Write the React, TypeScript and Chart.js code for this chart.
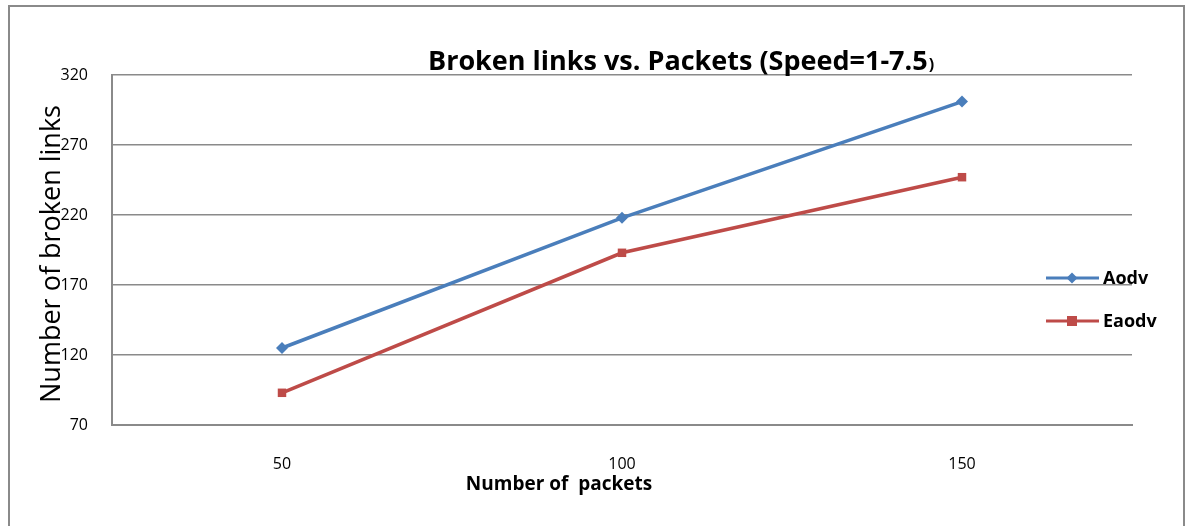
import { useEffect, useRef } from 'react';
import { Chart, registerables } from 'chart.js';
Chart.register(...registerables);

const categories = ['50', '100', '150'];
const aodvValues = [125, 218, 301];
const eaodvValues = [93, 193, 247];
const seriesNames = ['Aodv', 'Eaodv'];
const seriesColors = ['#4a7ebb', '#be4b48'];
const yMin = 70;
const yMax = 320;
const yStep = 50;
const titleText = 'Broken links vs. Packets (Speed=1-7.5';
const titleTail = ')';
const xTitle = 'Number of  packets';
const yTitle = 'Number of broken links';

const FONT = '"Open Sans", "DejaVu Sans", sans-serif';

const decorations = {
  id: 'decorations',
  afterDraw(chart: any) {
    const ctx = chart.ctx as CanvasRenderingContext2D;
    ctx.save();
    // outer frame
    ctx.strokeStyle = '#8a8a8a';
    ctx.lineWidth = 2;
    ctx.strokeRect(9, 6, 1175, 530);

    // title
    ctx.fillStyle = '#000';
    ctx.textBaseline = 'alphabetic';
    ctx.textAlign = 'left';
    ctx.font = `bold 27px ${FONT}`;
    const tw = ctx.measureText(titleText).width;
    const tx = 428;
    ctx.fillText(titleText, tx, 70);
    ctx.font = `bold 16px ${FONT}`;
    ctx.fillText(titleTail, tx + tw + 1, 70);

    // x title
    ctx.font = `bold 19px ${FONT}`;
    ctx.textAlign = 'center';
    ctx.textBaseline = 'middle';
    ctx.fillText(xTitle, 559, 485);

    // y title
    ctx.save();
    ctx.translate(52, 254);
    ctx.rotate(-Math.PI / 2);
    ctx.font = `27px ${FONT}`;
    ctx.textAlign = 'center';
    ctx.textBaseline = 'middle';
    ctx.fillText(yTitle, 0, 0);
    ctx.restore();

    // legend
    const legendY = [278, 321];
    chart.data.datasets.forEach((ds: any, i: number) => {
      const y = legendY[i];
      ctx.strokeStyle = ds.borderColor;
      ctx.lineWidth = 3;
      ctx.beginPath();
      ctx.moveTo(1046, y);
      ctx.lineTo(1099, y);
      ctx.stroke();
      ctx.fillStyle = ds.borderColor;
      const cx = 1072;
      if (ds.pointStyle === 'rectRot') {
        ctx.beginPath();
        ctx.moveTo(cx, y - 5.5);
        ctx.lineTo(cx + 5.5, y);
        ctx.lineTo(cx, y + 5.5);
        ctx.lineTo(cx - 5.5, y);
        ctx.closePath();
        ctx.fill();
      } else {
        ctx.fillRect(cx - 5, y - 5, 10, 10);
      }
      ctx.fillStyle = '#000';
      ctx.font = `bold 18px ${FONT}`;
      ctx.textAlign = 'left';
      ctx.textBaseline = 'middle';
      ctx.fillText(ds.label, 1103, y + 1);
    });
    ctx.restore();
  },
};

export default function App() {
  const ref = useRef<HTMLCanvasElement | null>(null);
  useEffect(() => {
    document.body.style.margin = '0';
    const canvas = ref.current;
    if (!canvas) return;
    const chart = new Chart(canvas, {
      type: 'line',
      data: {
        labels: categories,
        datasets: [
          {
            label: seriesNames[0],
            data: aodvValues,
            borderColor: seriesColors[0],
            backgroundColor: seriesColors[0],
            borderWidth: 3.5,
            pointStyle: 'rectRot',
            pointRadius: 6,
            pointBorderWidth: 0,
            tension: 0,
          },
          {
            label: seriesNames[1],
            data: eaodvValues,
            borderColor: seriesColors[1],
            backgroundColor: seriesColors[1],
            borderWidth: 3.5,
            pointStyle: 'rect',
            pointRadius: 6,
            pointBorderWidth: 0,
            tension: 0,
          },
        ],
      },
      options: {
        animation: false,
        responsive: false,
        maintainAspectRatio: false,
        layout: { padding: { left: 0, right: 54, top: 75, bottom: 0 } },
        plugins: {
          legend: { display: false },
          title: { display: false },
          tooltip: { enabled: false },
        },
        scales: {
          x: {
            offset: true,
            grid: { display: false, drawTicks: false },
            border: { display: true, color: '#8a8a8a', width: 2 },
            ticks: {
              color: '#000',
              font: { family: FONT, size: 16 },
              padding: 30,
            },
            afterFit: (s: any) => {
              s.height = 101;
            },
          },
          y: {
            min: yMin,
            max: yMax,
            grid: { color: '#8a8a8a', lineWidth: 1.5, drawTicks: false },
            border: { display: true, color: '#8a8a8a', width: 2 },
            ticks: {
              stepSize: yStep,
              color: '#000',
              font: { family: FONT, size: 16 },
              padding: 24,
            },
            afterFit: (s: any) => {
              s.width = 112;
            },
          },
        },
      },
      plugins: [decorations],
    });
    return () => chart.destroy();
  }, []);
  return <canvas ref={ref} width={1186} height={526} style={{ display: 'block' }} />;
}
